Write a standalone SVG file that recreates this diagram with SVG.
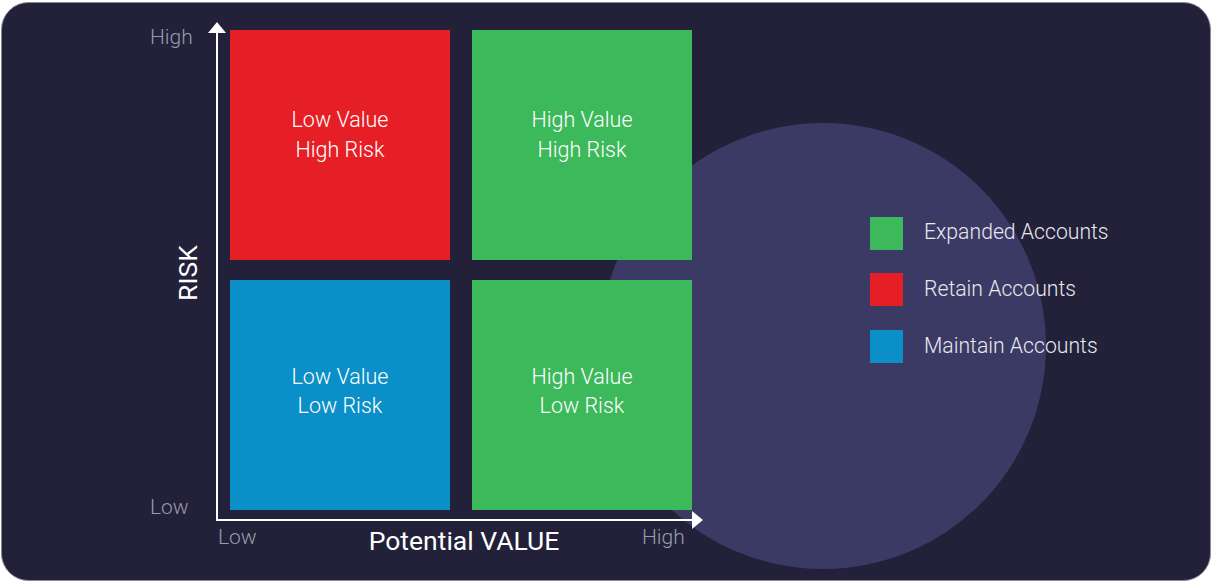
<svg xmlns="http://www.w3.org/2000/svg" width="1212" height="582" viewBox="0 0 1212 582">
<defs>
<style>
.q{font-family:Roboto,"Liberation Sans",sans-serif;font-weight:300;font-size:21.5px;fill:#ffffff;text-anchor:middle}
.ax{font-family:Roboto,"Liberation Sans",sans-serif;font-weight:300;font-size:21px;fill:#9b9bab}
.lg{font-family:Roboto,"Liberation Sans",sans-serif;font-weight:300;font-size:21.2px;fill:#e8e8ee}
.ttl{font-family:Roboto,"Liberation Sans",sans-serif;font-weight:400;font-size:26.5px;fill:#ffffff}
.axis{stroke:#ffffff;stroke-width:2;fill:none}
</style>
</defs>
<rect x="1.5" y="2.5" width="1209" height="578" rx="27" fill="#222139" stroke="#8a8a9a" stroke-width="1"/>
<circle cx="823" cy="346" r="223" fill="#3b3a64"/>
<g id="axes">
<line class="axis" x1="217" y1="521" x2="217" y2="30"/>
<polygon points="217,22 208,33 226,33" fill="#ffffff"/>
<line class="axis" x1="216" y1="520" x2="694" y2="520"/>
<polygon points="703,520 692,511 692,529" fill="#ffffff"/>
<text class="ax" x="150" y="44">High</text>
<text class="ax" x="150" y="514">Low</text>
<text class="ax" x="218" y="544">Low</text>
<text class="ax" x="642" y="544">High</text>
<text class="ttl" x="464" y="550" text-anchor="middle">Potential VALUE</text>
<text class="ttl" transform="translate(197,273) rotate(-90)" text-anchor="middle">RISK</text>
</g>
<g id="q-lvhr">
<rect x="230" y="30" width="220" height="230" fill="#e61f26"/>
<text class="q" x="340" y="127">Low Value</text>
<text class="q" x="340" y="157">High Risk</text>
</g>
<g id="q-hvhr">
<rect x="472" y="30" width="220" height="230" fill="#3cb95a"/>
<text class="q" x="582" y="127">High Value</text>
<text class="q" x="582" y="157">High Risk</text>
</g>
<g id="q-lvlr">
<rect x="230" y="280" width="220" height="230" fill="#0b8fc8"/>
<text class="q" x="340" y="384">Low Value</text>
<text class="q" x="340" y="413">Low Risk</text>
</g>
<g id="q-hvlr">
<rect x="472" y="280" width="220" height="230" fill="#3cb95a"/>
<text class="q" x="582" y="384">High Value</text>
<text class="q" x="582" y="413">Low Risk</text>
</g>
<g id="legend">
<rect x="870" y="217" width="33" height="33" fill="#3cb95a"/>
<text class="lg" x="924" y="239">Expanded Accounts</text>
<rect x="870" y="273" width="33" height="33" fill="#e61f26"/>
<text class="lg" x="924" y="296">Retain Accounts</text>
<rect x="870" y="330" width="33" height="33" fill="#0b8fc8"/>
<text class="lg" x="924" y="353">Maintain Accounts</text>
</g>
</svg>
